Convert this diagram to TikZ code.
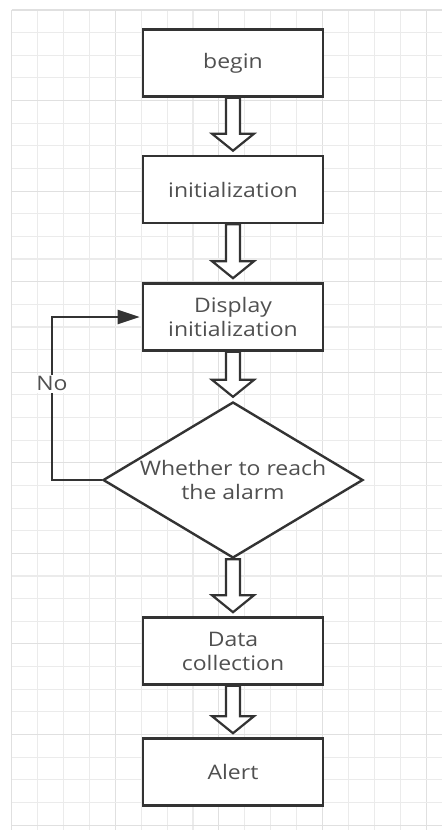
\documentclass[tikz,border=0pt]{standalone}
\usepackage{fontspec}
\setmainfont{Open Sans}[FakeStretch=1.15]
\usetikzlibrary{arrows.meta,calc,shapes.geometric}

\definecolor{gridminor}{HTML}{EBEBEB}
\definecolor{gridmajor}{HTML}{E0E0E0}
\definecolor{edge}{HTML}{333333}
\definecolor{label}{HTML}{505050}

\tikzset{
  stepbox/.style={draw=edge, line width=2.6pt, fill=white, rectangle,
    minimum width=180pt, minimum height=67pt, inner sep=0pt,
    align=center, text=label, font=\fontsize{20}{24}\selectfont},
  decision/.style={draw=edge, line width=2.4pt, fill=white, diamond,
    aspect=1.667, minimum width=260pt, minimum height=156pt, inner sep=0pt,
    align=center, text=label, font=\fontsize{20}{24}\selectfont},
  blockarr/.style={draw=edge, line width=2.2pt, fill=white, line join=miter},
  loopline/.style={draw=edge, line width=2.4pt},
  looplabel/.style={fill=white, text=label, inner sep=2pt,
    font=\fontsize{20}{24}\selectfont},
}

% hollow block arrow from the bottom of #1 to just above the top of #2
\newcommand\blockarrow[2]{%
  \draw[blockarr]
    ($(#1.south)+(-7,0)$) -- ($(#2.north)+(-7,-21)$) -- ($(#2.north)+(-21,-21)$)
    -- ($(#2.north)+(0,-4)$)
    -- ($(#2.north)+(21,-21)$) -- ($(#2.north)+(7,-21)$) -- ($(#1.south)+(7,0)$)
    -- cycle;}

\begin{document}
\begin{tikzpicture}[x=1pt, y=-1pt]
  \useasboundingbox (0,0) rectangle (442,830);
  \fill[white] (0,0) rectangle (442,830);

  % background grid
  \foreach \k in {0,...,16} {
    \pgfmathtruncatemacro\maj{mod(\k,4)==0}
    \ifnum\maj=1 \def\gc{gridmajor}\else\def\gc{gridminor}\fi
    \draw[\gc, line width=1.1pt] ({11.7+25.9*\k},10) -- ({11.7+25.9*\k},830);
  }
  \foreach \k in {0,...,36} {
    \pgfmathtruncatemacro\maj{mod(\k,4)==0}
    \ifnum\maj=1 \def\gc{gridmajor}\else\def\gc{gridminor}\fi
    \draw[\gc, line width=1.1pt] (11.7,{10+22.64*\k}) -- (442,{10+22.64*\k});
  }

  % flow steps
  \node[stepbox] (begin) at (233,63)    {begin};
  \node[stepbox] (init)  at (233,189.5) {initialization};
  \node[stepbox] (disp)  at (233,317)   {Display\\initialization};
  \node[decision] (dec)  at (233,480)   {Whether to reach\\the alarm};
  \node[stepbox] (data)  at (233,651)   {Data\\collection};
  \node[stepbox] (alert) at (233,772)   {Alert};

  % hollow arrows between the steps
  \blockarrow{begin}{init}
  \blockarrow{init}{disp}
  \blockarrow{disp}{dec}
  \blockarrow{dec}{data}
  \blockarrow{data}{alert}

  % "No" branch back to the display step
  \coordinate (lowturn) at (52,480);
  \coordinate (highturn) at (52,317);
  \draw[loopline, -{Triangle[length=22pt,width=14pt]}, shorten >=2pt]
    (dec.west) -- (lowturn) -- node[looplabel, pos=0.59] (no) {No} (highturn) -- (disp.west);
\end{tikzpicture}
\end{document}
